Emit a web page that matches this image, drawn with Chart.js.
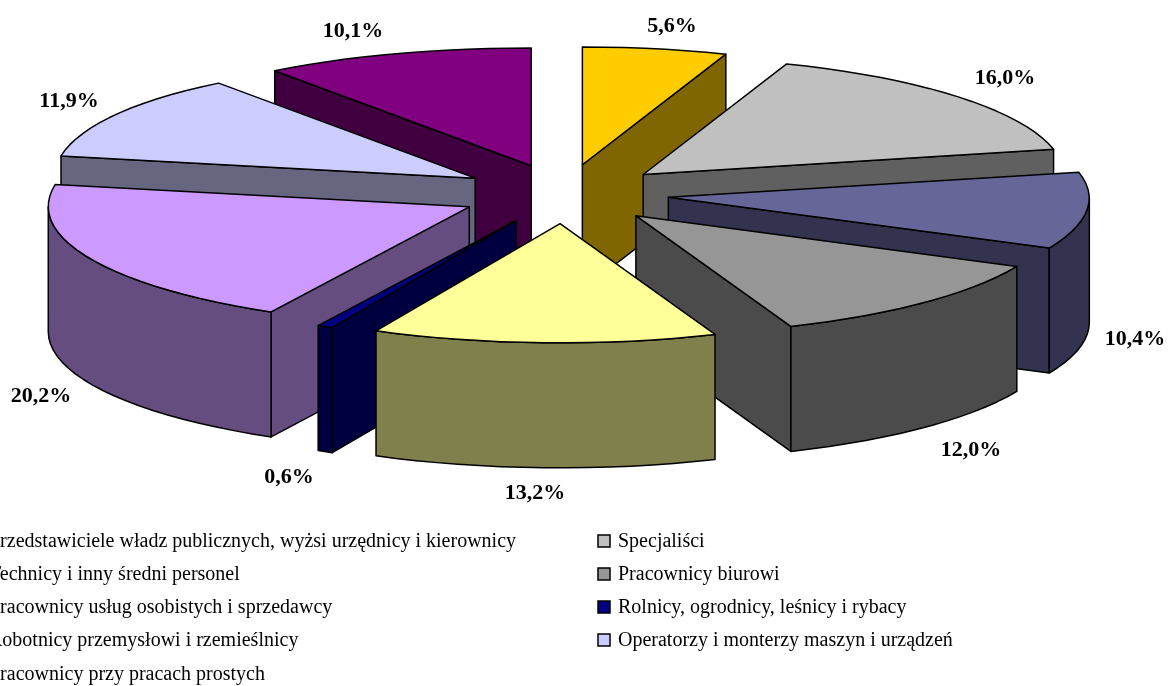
<!DOCTYPE html>
<html><head><meta charset="utf-8">
<style>html,body{margin:0;padding:0;background:#fff;overflow:hidden}canvas{display:block}</style>
<script src="https://cdn.jsdelivr.net/npm/chart.js@4"></script>
</head><body><canvas id="c" width="1168" height="686"></canvas>
<script>
const categories = ["Przedstawiciele władz publicznych, wyżsi urzędnicy i kierownicy","Specjaliści","Technicy i inny średni personel","Pracownicy biurowi","Pracownicy usług osobistych i sprzedawcy","Rolnicy, ogrodnicy, leśnicy i rybacy","Robotnicy przemysłowi i rzemieślnicy","Operatorzy i monterzy maszyn i urządzeń","Pracownicy przy pracach prostych"];
const shares = [5.6,16.0,10.4,12.0,13.2,0.6,20.2,11.9,10.1];
const valueLabels = ["5,6%","16,0%","10,4%","12,0%","13,2%","0,6%","20,2%","11,9%","10,1%"];
const topColors = ["#FFCC00","#C0C0C0","#666699","#969696","#FFFF99","#000080","#CC99FF","#CCCCFF","#800080"];
const sideColors = ["#806600","#606060","#333350","#4B4B4B","#80804D","#000040","#664D80","#666680","#400040"];
const labelCentres = [[672,26],[1005,78],[1135,339],[971,450],[535,493],[289,477],[41,396],[69,101],[353,31]];

const TILT=0.283, DEPTH=125, EXPLODE=105, STEP=Math.PI/60, PERSP=0.012, SKEW=18;
const pie3d = {
  id:'pie3d',
  beforeDatasetDraw(chart){
    const ctx=chart.ctx, arcs=chart.getDatasetMeta(0).data;
    const slices=arcs.map((a,i)=>{
      const mid=(a.startAngle+a.endAngle)/2;
      return {i,s:a.startAngle,e:a.endAngle,r:a.outerRadius,mid,
        ox:a.x+Math.cos(mid)*EXPLODE, oy:a.y+Math.sin(mid)*EXPLODE*TILT};
    }).sort((p,q)=>Math.sin(p.mid)-Math.sin(q.mid));
    ctx.save();
    ctx.lineWidth=1.5; ctx.strokeStyle='#000'; ctx.lineJoin='round';
    const pt=(sl,t,dz)=>{
      const c=Math.cos(t), s=Math.sin(t), back=Math.min(s,0), f=1+PERSP*back;
      const x=c>0 ? c*sl.r*f : c*sl.r+SKEW*back*back*c;
      return [sl.ox+x, sl.oy+s*sl.r*TILT*f+(dz||0)];
    };
    const poly=(pts,fill)=>{ctx.beginPath();pts.forEach((p,k)=>k?ctx.lineTo(p[0],p[1]):ctx.moveTo(p[0],p[1]));ctx.closePath();ctx.fillStyle=fill;ctx.fill();ctx.stroke();};
    const rim=(sl,a,b,dz)=>{const out=[];const n=Math.max(1,Math.ceil((b-a)/STEP));for(let k=0;k<=n;k++)out.push(pt(sl,a+(b-a)*k/n,dz));return out;};
    for(const sl of slices){
      const side=sideColors[sl.i], apex=[sl.ox,sl.oy], apexD=[sl.ox,sl.oy+DEPTH];
      // only the cut faces that turn towards the viewer
      if(Math.sin(sl.s-Math.PI/2)>0) poly([apex,pt(sl,sl.s),pt(sl,sl.s,DEPTH),apexD],side);
      if(Math.sin(sl.e+Math.PI/2)>0) poly([apex,pt(sl,sl.e),pt(sl,sl.e,DEPTH),apexD],side);
      // visible part of the curved wall: the near half of the ellipse
      for(const off of [0,2*Math.PI,-2*Math.PI]){
        const a=Math.max(sl.s+off,0), b=Math.min(sl.e+off,Math.PI);
        if(b>a) poly([...rim(sl,a,b,0),...rim(sl,a,b,DEPTH).reverse()],side);
      }
      poly([apex,...rim(sl,sl.s,sl.e,0)],topColors[sl.i]);
    }
    ctx.restore();
    return false;
  },
  afterDraw(chart){
    const ctx=chart.ctx;
    ctx.save();
    ctx.fillStyle='#000'; ctx.textBaseline='middle';
    ctx.font='bold 22px "Liberation Serif"'; ctx.textAlign='center';
    valueLabels.forEach((t,i)=>ctx.fillText(t,labelCentres[i][0],labelCentres[i][1]));
    ctx.font='20px "Liberation Serif"'; ctx.textAlign='left';
    const rowY=[542,575,608,641,675];
    categories.forEach((t,i)=>{
      const col=i%2, y=rowY[Math.floor(i/2)];
      const mx=col?598:-33, tx=col?618:-11, boxY=y-7;
      ctx.fillStyle=topColors[i]; ctx.strokeStyle='#000'; ctx.lineWidth=1.5;
      ctx.fillRect(mx,boxY,12,12); ctx.strokeRect(mx,boxY,12,12);
      ctx.fillStyle='#000'; ctx.fillText(t,tx,y);
    });
    ctx.restore();
  }
};
new Chart(document.getElementById('c'),{
  type:'pie',
  data:{labels:categories,datasets:[{data:shares,backgroundColor:topColors}]},
  options:{responsive:false,animation:false,radius:421,
    layout:{padding:{left:0,right:40,top:0,bottom:298}},
    plugins:{legend:{display:false},tooltip:{enabled:false},title:{display:false}}},
  plugins:[pie3d]
});
</script></body></html>
